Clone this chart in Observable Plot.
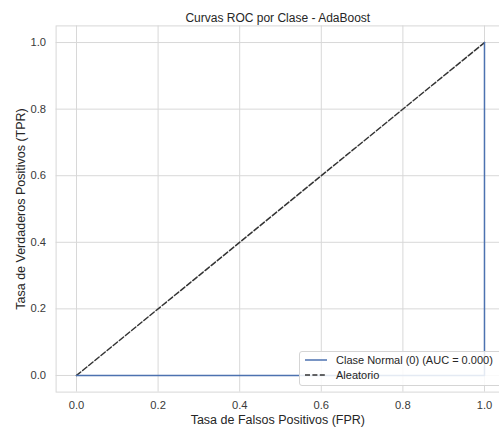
<!DOCTYPE html>
<html><head><meta charset="utf-8">
<script src="https://cdn.jsdelivr.net/npm/d3@7"></script>
<script src="https://cdn.jsdelivr.net/npm/@observablehq/plot@0.6"></script>
<style>
body{margin:0;background:#fff;font-family:"Liberation Sans",Arial,sans-serif;}
#wrap{position:relative;width:499px;height:430px;overflow:hidden;}
.legend{position:absolute;left:299px;top:351px;width:210px;height:33px;border:1px solid #d5d5d5;border-radius:3px;background:rgba(255,255,255,0.85);font-size:11px;color:#262626;}
.legend .row{position:absolute;left:3px;height:14px;display:flex;align-items:center;}
.legend svg{display:block;}
</style></head>
<body><div id="wrap"></div>
<script>
const title = "Curvas ROC por Clase - AdaBoost";
const xLabel = "Tasa de Falsos Positivos (FPR)";
const yLabel = "Tasa de Verdaderos Positivos (TPR)";
const ticks = [0, 0.2, 0.4, 0.6, 0.8, 1.0];
const rocFpr = [0, 1, 1];
const rocTpr = [0, 0, 1];
const randFpr = [0, 1];
const randTpr = [0, 1];
const seriesNames = ["Clase Normal (0) (AUC = 0.000)", "Aleatorio"];

const roc = rocFpr.map((x, i) => ({x, y: rocTpr[i]}));
const rnd = randFpr.map((x, i) => ({x, y: randTpr[i]}));

const chart = Plot.plot({
  width: 499, height: 430,
  marginLeft: 55.6, marginRight: 0, marginTop: 25.4, marginBottom: 38.4,
  style: {fontFamily: "'Liberation Sans', Arial, sans-serif", background: "#fff", color: "#262626", overflow: "visible"},
  x: {domain: [-0.05, 1.0368]},
  y: {domain: [-0.05, 1.05]},
  marks: [
    Plot.gridX(ticks, {stroke: "#d8d8d8", strokeOpacity: 1, strokeWidth: 1}),
    Plot.gridY(ticks, {stroke: "#d8d8d8", strokeOpacity: 1, strokeWidth: 1}),
    Plot.frame({stroke: "#d8d8d8", strokeWidth: 1}),
    Plot.axisX(ticks, {tickSize: 0, tickPadding: 9, fontSize: 11.2, tickFormat: d3.format(".1f"), label: null, fill: "#3a3a3a"}),
    Plot.axisY(ticks, {tickSize: 0, tickPadding: 10, fontSize: 11.2, tickFormat: d3.format(".1f"), label: null, fill: "#3a3a3a"}),
    Plot.line(rnd, {x: "x", y: "y", stroke: "#333333", strokeWidth: 1.5, strokeDasharray: "5.5,2.4"}),
    Plot.line(roc, {x: "x", y: "y", stroke: "#4c72b0", strokeWidth: 1.5}),
    Plot.text([title], {frameAnchor: "top", dy: -12.5, fontSize: 12, fill: "#262626"}),
    Plot.text([xLabel], {frameAnchor: "bottom", dy: 32, fontSize: 12.5, fill: "#262626"}),
    Plot.text([yLabel], {frameAnchor: "left", dx: -35, rotate: -90, textAnchor: "middle", fontSize: 12.5, fill: "#262626"})
  ]
});
const wrap = document.getElementById("wrap");
wrap.appendChild(chart);

const leg = document.createElement("div");
leg.className = "legend";
leg.innerHTML = `
<div class="row" style="top:1px"><svg width="30" height="10"><line x1="2" y1="5" x2="24" y2="5" stroke="#4c72b0" stroke-width="1.5"/></svg><span style="margin-left:3px">${seriesNames[0]}</span></div>
<div class="row" style="top:16px"><svg width="30" height="10"><line x1="2" y1="5" x2="24" y2="5" stroke="#333" stroke-width="1.5" stroke-dasharray="5,2.4"/></svg><span style="margin-left:3px">${seriesNames[1]}</span></div>`;
wrap.appendChild(leg);
</script></body></html>
